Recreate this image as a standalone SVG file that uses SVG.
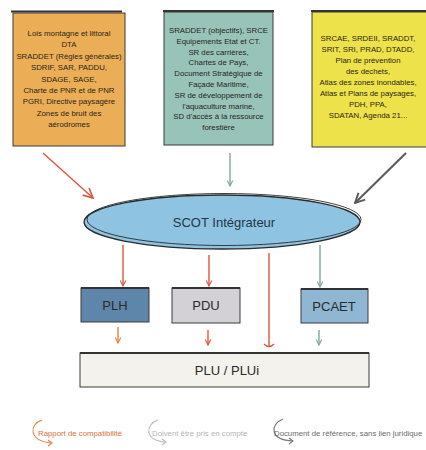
<svg xmlns="http://www.w3.org/2000/svg" width="426" height="450" viewBox="0 0 426 450">
<defs>
<style>
.src{font-family:"Liberation Sans",Arial,sans-serif;font-size:7.8px;fill:#2a2418;text-anchor:middle}
.box{stroke:#3a3a3a;stroke-width:1}
.topb{stroke:#333;stroke-width:2.2}
.lbl{font-family:"Liberation Sans",Arial,sans-serif;font-size:13px;fill:#2a2a2a;text-anchor:middle}
.red{stroke:#D9573E;stroke-width:1.4;fill:none}
.org{stroke:#E4823F;stroke-width:1.4;fill:none}
.teal{stroke:#7FA89A;stroke-width:1.4;fill:none}
.gray{stroke:#5a5a5a;stroke-width:2;fill:none}
.leg{font-family:"Liberation Sans",Arial,sans-serif;font-size:7.8px}
</style>
<marker id="hr" viewBox="0 0 10 10" refX="9" refY="5" markerWidth="7" markerHeight="7" orient="auto" markerUnits="userSpaceOnUse"><path d="M1,1 L9,5 L1,9" fill="none" stroke="#D9573E" stroke-width="1.6"/></marker>
<marker id="ho" viewBox="0 0 10 10" refX="9" refY="5" markerWidth="7" markerHeight="7" orient="auto" markerUnits="userSpaceOnUse"><path d="M1,1 L9,5 L1,9" fill="none" stroke="#E4823F" stroke-width="1.6"/></marker>
<marker id="ht" viewBox="0 0 10 10" refX="9" refY="5" markerWidth="7" markerHeight="7" orient="auto" markerUnits="userSpaceOnUse"><path d="M1,1 L9,5 L1,9" fill="none" stroke="#7FA89A" stroke-width="1.6"/></marker>
<marker id="hg" viewBox="0 0 10 10" refX="9" refY="5" markerWidth="12" markerHeight="12" orient="auto" markerUnits="userSpaceOnUse"><path d="M1,1 L9,5 L1,9" fill="none" stroke="#5a5a5a" stroke-width="1.6"/></marker>
<marker id="hbig" viewBox="0 0 10 10" refX="9" refY="5" markerWidth="12" markerHeight="12" orient="auto" markerUnits="userSpaceOnUse"><path d="M1,1 L9,5 L1,9" fill="none" stroke="#D9573E" stroke-width="1.4"/></marker>
</defs>
<rect width="426" height="450" fill="#ffffff"/>

<g id="box-orange">
<rect x="13" y="13" width="112" height="133" fill="#EBAE56" class="box"/>
<line x1="11" y1="11.5" x2="122" y2="11.5" class="topb"/>
<text class="src" x="69" y="36">Lois montagne et littoral</text>
<text class="src" x="69" y="47.4">DTA</text>
<text class="src" x="69" y="58.8">SRADDET (Règles générales)</text>
<text class="src" x="69" y="70.2">SDRIF, SAR, PADDU,</text>
<text class="src" x="69" y="81.6">SDAGE, SAGE,</text>
<text class="src" x="69" y="93">Charte de PNR et de PNR</text>
<text class="src" x="69" y="104.4">PGRI, Directive paysagère</text>
<text class="src" x="69" y="115.8">Zones de bruit des</text>
<text class="src" x="69" y="127.2">aérodromes</text>
</g>

<g id="box-teal">
<rect x="164" y="12" width="109" height="133" fill="#98C3B8" class="box"/>
<line x1="163" y1="11" x2="274" y2="11" class="topb"/>
<text class="src" x="218.5" y="33">SRADDET (objectifs), SRCE</text>
<text class="src" x="218.5" y="43.8">Equipements Etat et CT.</text>
<text class="src" x="218.5" y="54.6">SR des carrières,</text>
<text class="src" x="218.5" y="65.4">Chartes de Pays,</text>
<text class="src" x="218.5" y="76.2">Document Stratégique de</text>
<text class="src" x="218.5" y="87">Façade Maritime,</text>
<text class="src" x="218.5" y="97.8">SR de développement de</text>
<text class="src" x="218.5" y="108.6">l'aquaculture marine,</text>
<text class="src" x="218.5" y="119.4">SD d'accès à la ressource</text>
<text class="src" x="218.5" y="130.2">forestière</text>
</g>

<g id="box-yellow">
<rect x="312" y="12" width="116" height="135" fill="#EDE24A" class="box"/>
<line x1="311" y1="11" x2="426" y2="11" class="topb"/>
<text class="src" x="368" y="41">SRCAE, SRDEII, SRADDT,</text>
<text class="src" x="368" y="52">SRIT, SRI, PRAD, DTADD,</text>
<text class="src" x="368" y="63">Plan de prévention</text>
<text class="src" x="368" y="74">des dechets,</text>
<text class="src" x="368" y="85">Atlas des zones inondables,</text>
<text class="src" x="368" y="96">Atlas et Plans de paysages,</text>
<text class="src" x="368" y="107">PDH, PPA,</text>
<text class="src" x="368" y="118">SDATAN, Agenda 21...</text>
</g>

<g id="scot">
<ellipse cx="222" cy="222" rx="138" ry="27" fill="#8EC4E2" stroke="#2a2a2a" stroke-width="1.3"/>
<ellipse cx="224" cy="219.5" rx="137" ry="26" fill="none" stroke="#2a2a2a" stroke-width="0.9"/>
<text x="224" y="226.5" font-family="Liberation Sans, Arial, sans-serif" font-size="13" fill="#253545" text-anchor="middle">SCOT Intégrateur</text>
</g>

<g id="plh">
<rect x="81" y="288" width="68" height="34" fill="#5E86AB" class="box"/>
<line x1="81" y1="288" x2="149" y2="288" class="topb"/>
<text class="lbl" x="115" y="310">PLH</text>
</g>
<g id="pdu">
<rect x="172" y="288" width="68" height="35" fill="#D3D1D6" class="box"/>
<line x1="172" y1="288" x2="240" y2="288" class="topb"/>
<text class="lbl" x="206" y="310">PDU</text>
</g>
<g id="pcaet">
<rect x="301" y="289" width="67" height="34" fill="#8FB6D3" class="box"/>
<line x1="301" y1="289" x2="368" y2="289" class="topb"/>
<text class="lbl" x="334" y="311">PCAET</text>
</g>
<g id="plu">
<rect x="80" y="353" width="289" height="34" fill="#F3F2EC" class="box"/>
<line x1="80" y1="353" x2="369" y2="353" class="topb"/>
<text class="lbl" x="227" y="375">PLU / PLUi</text>
</g>

<g id="connectors">
<line x1="43" y1="153" x2="93" y2="198" class="red" marker-end="url(#hbig)"/>
<line x1="230" y1="153" x2="230" y2="186" class="teal" stroke-width="1.2" marker-end="url(#ht)"/>
<line x1="406" y1="153" x2="355" y2="203" class="gray" marker-end="url(#hg)"/>
<line x1="123" y1="245" x2="123" y2="286" class="red" marker-end="url(#hr)"/>
<line x1="209" y1="255" x2="209" y2="286" class="red" marker-end="url(#hr)"/>
<line x1="269" y1="253" x2="269" y2="347" class="red"/>
<path d="M264,344 Q269,349 274,344" class="red"/>
<line x1="320" y1="245" x2="320" y2="287" class="teal" marker-end="url(#ht)"/>
<line x1="118" y1="327" x2="118" y2="343" class="org" marker-end="url(#ho)"/>
<line x1="208" y1="330" x2="208" y2="345" class="red" marker-end="url(#hr)"/>
<line x1="319" y1="330" x2="319" y2="345" class="teal" marker-end="url(#ht)"/>
</g>

<g id="legend">
<path d="M42,420 C29,424 28,441 52,443" fill="none" stroke="#E4823F" stroke-width="1.1"/>
<path d="M48,440 L52,443 L48,446" fill="none" stroke="#E4823F" stroke-width="1.1"/>
<text class="leg" x="38" y="435.5" fill="#D9703A">Rapport de compatibilité</text>
<path d="M158,420 C145,424 144,441 166,442" fill="none" stroke="#b8b8b8" stroke-width="1.1"/>
<path d="M162,439 L166,442 L162,445" fill="none" stroke="#b8b8b8" stroke-width="1.1"/>
<text class="leg" x="152" y="435.5" fill="#b5b5b5">Doivent être pris en compte</text>
<path d="M283,419 C270,424 269,440 293,441" fill="none" stroke="#777" stroke-width="1.1"/>
<path d="M289,438 L293,441 L289,444" fill="none" stroke="#777" stroke-width="1.1"/>
<text class="leg" x="274" y="435.5" fill="#6a6a6a">Document de référence, sans lien juridique</text>
</g>
</svg>
